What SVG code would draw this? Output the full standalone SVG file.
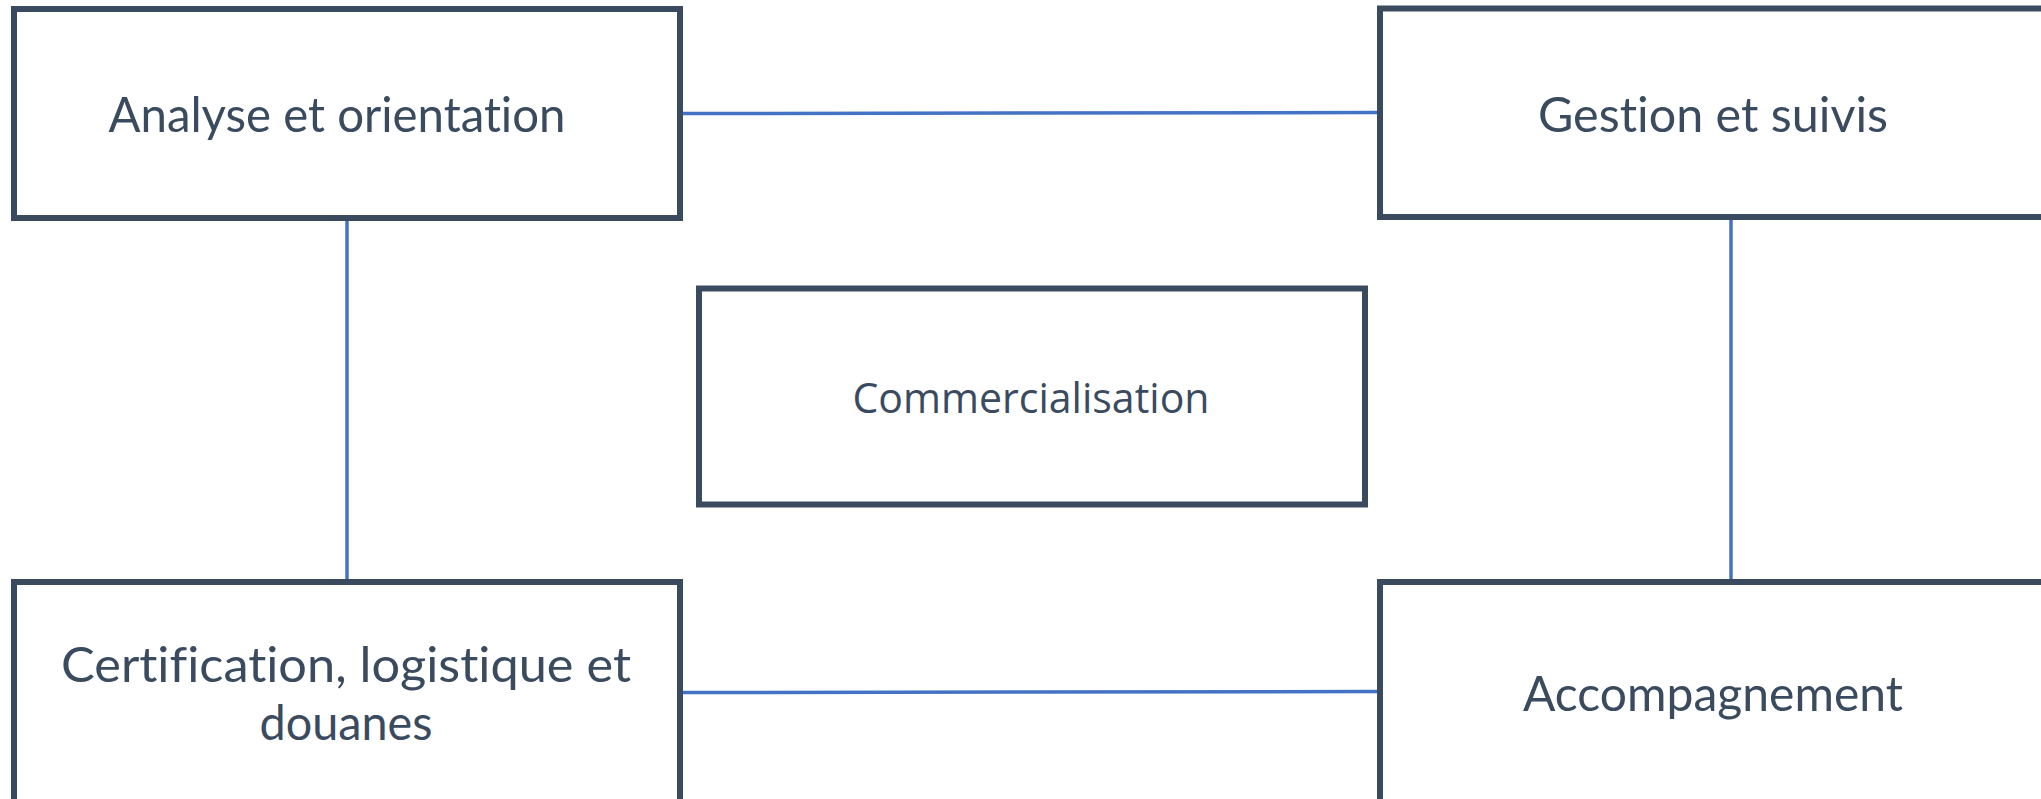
<svg xmlns="http://www.w3.org/2000/svg" width="2041" height="799" viewBox="0 0 2041 799">
<style>
.box{fill:#fff;stroke:#3a4b5f;stroke-width:6}
.lbl{font-family:Lato,"Open Sans",sans-serif;font-size:49px;fill:#3a4b5f;text-anchor:middle;font-variant-ligatures:none}
.lbl2{font-family:"Open Sans",Lato,sans-serif;font-size:41.5px;fill:#3a4b5f;text-anchor:middle}
.conn{stroke:#4472c4;stroke-width:3.5;fill:none}
</style>
<rect width="2041" height="799" fill="#fff"/>
<g id="connectors">
<line class="conn" x1="683" y1="113.5" x2="1377" y2="112.5"/>
<line class="conn" x1="347" y1="221" x2="347" y2="579"/>
<line class="conn" x1="1731" y1="220" x2="1731" y2="579"/>
<line class="conn" x1="683" y1="692.5" x2="1377" y2="691.5"/>
</g>
<g id="analyse">
<rect class="box" x="14" y="9" width="666" height="209"/>
<text class="lbl" x="337" y="131.5" textLength="457" lengthAdjust="spacingAndGlyphs">Analyse et orientation</text>
</g>
<g id="gestion">
<rect class="box" x="1380" y="8.5" width="670" height="208.5"/>
<text class="lbl" x="1713" y="131.5" textLength="350" lengthAdjust="spacingAndGlyphs">Gestion et suivis</text>
</g>
<g id="commercialisation">
<rect class="box" x="699" y="288.5" width="666" height="216"/>
<text class="lbl2" x="1031" y="412.5" textLength="357" lengthAdjust="spacingAndGlyphs">Commercialisation</text>
</g>
<g id="certification">
<rect class="box" x="14" y="582" width="666" height="230"/>
<text class="lbl" x="346" y="681.5" textLength="570" lengthAdjust="spacingAndGlyphs">Certification, logistique et</text>
<text class="lbl" x="346" y="739.5" textLength="173" lengthAdjust="spacingAndGlyphs">douanes</text>
</g>
<g id="accompagnement">
<rect class="box" x="1380" y="582" width="670" height="230"/>
<text class="lbl" x="1713" y="710.5" textLength="380" lengthAdjust="spacingAndGlyphs">Accompagnement</text>
</g>
</svg>
